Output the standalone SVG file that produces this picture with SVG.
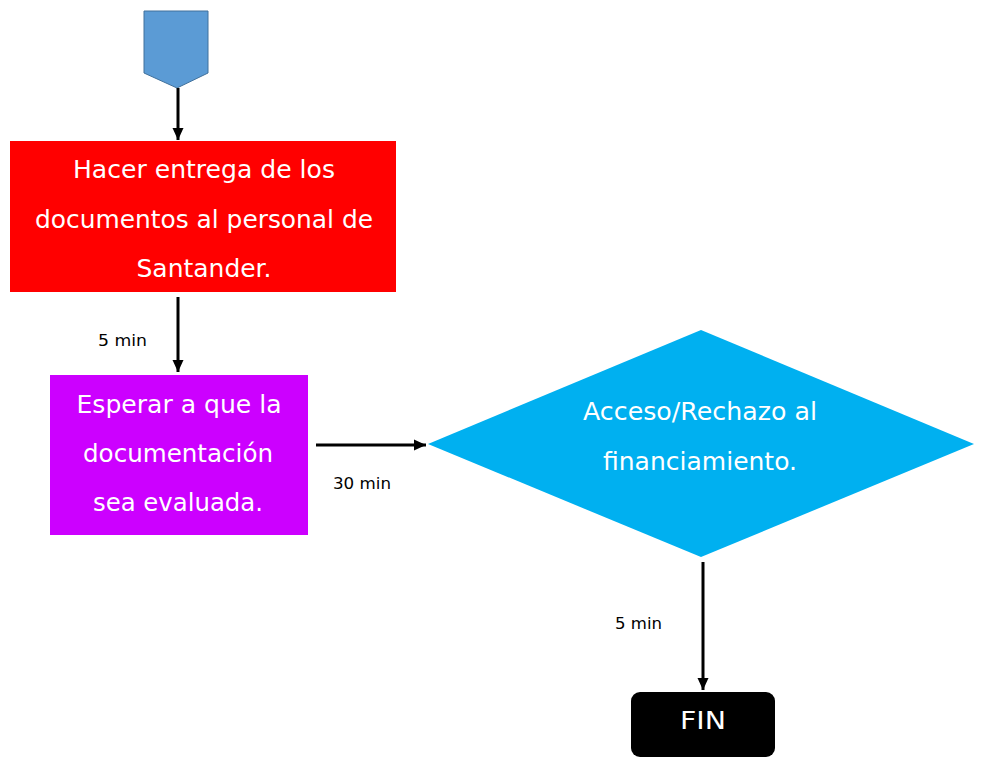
<svg xmlns="http://www.w3.org/2000/svg" width="981" height="771" viewBox="0 0 981 771">
<style>
.lbl{font-family:"DejaVu Sans","Liberation Sans",sans-serif;fill:#fff;font-size:25px;text-anchor:middle}
.sm{font-family:"DejaVu Sans","Liberation Sans",sans-serif;fill:#000;font-size:16.5px}
.conn{stroke:#000;stroke-width:3;fill:none;marker-end:url(#ah)}
</style>
<defs>
<marker id="ah" markerUnits="userSpaceOnUse" markerWidth="14" markerHeight="14" refX="12" refY="6" orient="auto">
<path d="M0,0.5 L12,6 L0,11.5 Z" fill="#000"/>
</marker>
</defs>
<rect width="981" height="771" fill="#fff"/>
<g id="start">
<polygon points="144,11 208,11 208,73 177,88 144,73" fill="#5B9BD5" stroke="#41719C" stroke-width="1"/>
</g>
<g id="n1">
<rect x="10" y="141" width="386" height="151" fill="#FF0000"/>
<text class="lbl" x="204" y="178" textLength="262" lengthAdjust="spacingAndGlyphs">Hacer entrega de los</text>
<text class="lbl" x="204" y="228" textLength="338" lengthAdjust="spacingAndGlyphs">documentos al personal de</text>
<text class="lbl" x="204" y="277" textLength="135" lengthAdjust="spacingAndGlyphs">Santander.</text>
</g>
<g id="n2">
<rect x="50" y="375" width="258" height="160" fill="#CC00FF"/>
<text class="lbl" x="179" y="413" textLength="205" lengthAdjust="spacingAndGlyphs">Esperar a que la</text>
<text class="lbl" x="178" y="462" textLength="190" lengthAdjust="spacingAndGlyphs">documentación</text>
<text class="lbl" x="178" y="511" textLength="170" lengthAdjust="spacingAndGlyphs">sea evaluada.</text>
</g>
<g id="n3">
<polygon points="428,444 701,330 974,444 701,557" fill="#00B0F0"/>
<text class="lbl" x="700" y="420" textLength="234" lengthAdjust="spacingAndGlyphs">Acceso/Rechazo al</text>
<text class="lbl" x="700" y="470" textLength="194" lengthAdjust="spacingAndGlyphs">financiamiento.</text>
</g>
<g id="n4">
<rect x="631" y="692" width="144" height="65" rx="9" fill="#000"/>
<text class="lbl" x="703" y="729" textLength="46" lengthAdjust="spacingAndGlyphs">FIN</text>
</g>
<g id="connectors">
<line class="conn" x1="178" y1="88" x2="178" y2="140"/>
<line class="conn" x1="178" y1="297" x2="178" y2="372"/>
<line class="conn" x1="316" y1="445" x2="426" y2="445"/>
<line class="conn" x1="703" y1="562" x2="703" y2="690"/>
<text class="sm" x="98" y="346" textLength="49" lengthAdjust="spacingAndGlyphs">5 min</text>
<text class="sm" x="333" y="489" textLength="58" lengthAdjust="spacingAndGlyphs">30 min</text>
<text class="sm" x="615" y="629" textLength="47" lengthAdjust="spacingAndGlyphs">5 min</text>
</g>
</svg>
